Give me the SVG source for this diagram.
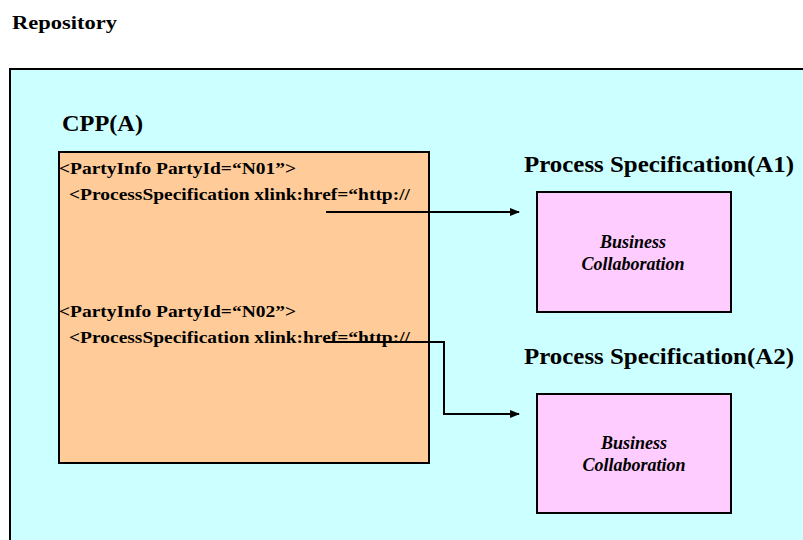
<svg xmlns="http://www.w3.org/2000/svg" width="803" height="540" viewBox="0 0 803 540">
  <defs>
    <marker id="arrow" markerWidth="10" markerHeight="8" refX="9" refY="4" orient="auto" markerUnits="userSpaceOnUse">
      <path d="M0,0 L10,4 L0,8 Z" fill="#000"/>
    </marker>
    <style>
      .t { font-family: "Liberation Serif", "Times New Roman", serif; font-weight: bold; fill: #000; }
      .it { font-style: italic; }
      .box { stroke: #000; stroke-width: 2; }
      .conn { fill: none; stroke: #000; stroke-width: 2; }
    </style>
  </defs>

  <rect width="803" height="540" fill="#fff"/>

  <!-- repository container -->
  <g id="repository">
    <text class="t" x="12" y="29" font-size="19" textLength="105" lengthAdjust="spacingAndGlyphs">Repository</text>
    <rect class="box" x="10" y="69" width="900" height="600" fill="#CCFFFF"/>
  </g>

  <!-- CPP document -->
  <g id="cpp-a">
    <text class="t" x="62" y="131" font-size="24" textLength="81" lengthAdjust="spacingAndGlyphs">CPP(A)</text>
    <rect class="box" x="59" y="152" width="370" height="311" fill="#FFCC99"/>
    <text class="t" x="59" y="174" font-size="17" textLength="237" lengthAdjust="spacingAndGlyphs">&lt;PartyInfo PartyId=“N01”&gt;</text>
    <text class="t" x="69" y="200" font-size="17" textLength="341" lengthAdjust="spacingAndGlyphs">&lt;ProcessSpecification xlink:href=“http://</text>
    <text class="t" x="59" y="317" font-size="17" textLength="237" lengthAdjust="spacingAndGlyphs">&lt;PartyInfo PartyId=“N02”&gt;</text>
    <text class="t" x="69" y="343" font-size="17" textLength="341" lengthAdjust="spacingAndGlyphs">&lt;ProcessSpecification xlink:href=“http://</text>
  </g>

  <!-- process specification A1 -->
  <g id="ps-a1">
    <text class="t" x="524" y="172" font-size="23" textLength="270" lengthAdjust="spacingAndGlyphs">Process Specification(A1)</text>
    <rect class="box" x="537" y="192" width="194" height="120" fill="#FFCCFF"/>
    <text class="t it" x="633" y="248" font-size="18" text-anchor="middle">Business</text>
    <text class="t it" x="633" y="270" font-size="18" text-anchor="middle">Collaboration</text>
  </g>

  <!-- process specification A2 -->
  <g id="ps-a2">
    <text class="t" x="524" y="364" font-size="23" textLength="270" lengthAdjust="spacingAndGlyphs">Process Specification(A2)</text>
    <rect class="box" x="537" y="394" width="194" height="119" fill="#FFCCFF"/>
    <text class="t it" x="634" y="449" font-size="18" text-anchor="middle">Business</text>
    <text class="t it" x="634" y="471" font-size="18" text-anchor="middle">Collaboration</text>
  </g>

  <!-- references from CPP to process specifications -->
  <g id="connectors">
    <path class="conn" d="M326,212 H519" marker-end="url(#arrow)"/>
    <path class="conn" d="M326,342 H444 V414 H519" marker-end="url(#arrow)"/>
  </g>
</svg>
